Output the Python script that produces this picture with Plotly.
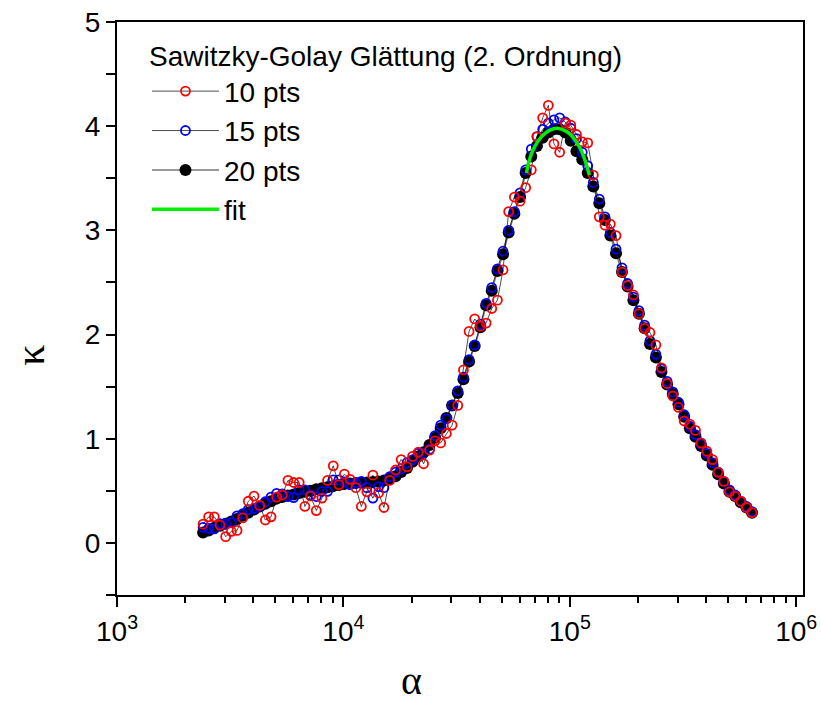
import plotly.graph_objects as go

alpha = [2400, 2540, 2690, 2850, 3020, 3200, 3390, 3590, 3800, 4030,
         4270, 4520, 4790, 5070, 5370, 5690, 6030, 6380, 6760, 7160,
         7590, 8040, 8510, 9020, 9550, 10100, 10700, 11350, 12000, 12700,
         13500, 14300, 15100, 16000, 17000, 18000, 19100, 20200, 21400, 22600,
         24000, 25400, 26900, 28500, 30200, 32000, 33900, 35900, 38000, 40300,
         42700, 45200, 47900, 50700, 53700, 56900, 60300, 63800, 67600, 71600,
         75900, 80400, 85100, 90200, 95500, 101000, 107000, 113500, 120000, 127000,
         135000, 143000, 151000, 160000, 170000, 180000, 191000, 202000, 214000, 226000,
         240000, 254000, 269000, 285000, 302000, 320000, 339000, 359000, 380000, 403000,
         427000, 452000, 479000, 507000, 537000, 569000, 603000, 638000]

kappa_20 = [0.10, 0.12, 0.145, 0.165, 0.185, 0.205, 0.23, 0.26, 0.29, 0.32,
            0.35, 0.375, 0.40, 0.425, 0.44, 0.455, 0.465, 0.48, 0.49, 0.50,
            0.515, 0.525, 0.535, 0.545, 0.555, 0.565, 0.57, 0.575, 0.58, 0.58,
            0.585, 0.59, 0.60, 0.615, 0.64, 0.68, 0.72, 0.78, 0.83, 0.87,
            0.94, 1.01, 1.10, 1.20, 1.32, 1.44, 1.57, 1.74, 1.89, 2.07,
            2.28, 2.42, 2.61, 2.77, 2.98, 3.16, 3.32, 3.55, 3.71, 3.81,
            3.89, 3.94, 3.97, 3.97, 3.94, 3.86, 3.76, 3.68, 3.55, 3.42,
            3.26, 3.10, 2.95, 2.78, 2.60, 2.46, 2.33, 2.20, 2.06, 1.91,
            1.78, 1.64, 1.52, 1.43, 1.33, 1.21, 1.10, 1.02, 0.93, 0.84,
            0.75, 0.66, 0.57, 0.49, 0.45, 0.39, 0.34, 0.29]

kappa_15 = [0.15, 0.14, 0.135, 0.185, 0.185, 0.195, 0.26, 0.28, 0.32, 0.33,
            0.35, 0.395, 0.44, 0.475, 0.47, 0.445, 0.435, 0.51, 0.51, 0.46,
            0.445, 0.495, 0.495, 0.605, 0.605, 0.585, 0.56, 0.575, 0.59, 0.53,
            0.43, 0.54, 0.53, 0.635, 0.68, 0.71, 0.77, 0.80, 0.86, 0.86,
            0.90, 1.03, 1.13, 1.19, 1.32, 1.46, 1.59, 1.76, 1.90, 2.10,
            2.30, 2.45, 2.63, 2.80, 3.00, 3.18, 3.36, 3.58, 3.78, 3.90,
            3.97, 4.03, 4.06, 4.08, 4.04, 3.98, 3.88, 3.75, 3.62, 3.46,
            3.30, 3.13, 2.98, 2.82, 2.64, 2.49, 2.36, 2.23, 2.09, 1.94,
            1.81, 1.67, 1.55, 1.45, 1.35, 1.23, 1.12, 1.04, 0.95, 0.86,
            0.77, 0.68, 0.59, 0.51, 0.46, 0.40, 0.35, 0.30]

kappa_10 = [0.18, 0.25, 0.25, 0.17, 0.06, 0.11, 0.12, 0.24, 0.40, 0.45,
            0.36, 0.22, 0.25, 0.44, 0.46, 0.60, 0.58, 0.58, 0.35, 0.45,
            0.31, 0.43, 0.60, 0.74, 0.56, 0.66, 0.61, 0.53, 0.35, 0.49,
            0.65, 0.48, 0.34, 0.60, 0.70, 0.80, 0.73, 0.83, 0.87, 0.76,
            0.89, 0.98, 0.96, 1.05, 1.13, 1.32, 1.66, 2.03, 2.15, 2.08,
            2.11, 2.25, 2.33, 2.62, 3.18, 3.32, 3.28, 3.41, 3.58, 3.90,
            4.08, 4.20, 3.83, 3.75, 4.03, 4.01, 3.92, 3.85, 3.84, 3.53,
            3.13, 3.05, 3.06, 2.95, 2.60, 2.47, 2.38, 2.20, 2.06, 2.02,
            1.90, 1.68, 1.53, 1.41, 1.30, 1.17, 1.14, 1.08, 0.96, 0.88,
            0.80, 0.68, 0.59, 0.49, 0.45, 0.40, 0.34, 0.29]

fit_alpha = [64360, 66340, 69800, 74950, 81280, 88150, 96600, 102700, 110300, 116000, 122000]
fit_kappa = [3.55, 3.68, 3.80, 3.90, 3.96, 3.98, 3.95, 3.90, 3.80, 3.69, 3.53]

x_tickvals = [1e3, 1e4, 1e5, 1e6]
x_ticktext = ["10<sup>3</sup>", "10<sup>4</sup>", "10<sup>5</sup>", "10<sup>6</sup>"]

fig = go.Figure()
fig.add_trace(go.Scatter(
    x=alpha, y=kappa_20, name="20 pts", mode="lines+markers", legendrank=3,
    line=dict(color="#777777", width=1.5),
    marker=dict(symbol="circle", size=12, color="black", line=dict(width=0))))
fig.add_trace(go.Scatter(
    x=alpha, y=kappa_15, name="15 pts", mode="lines+markers", legendrank=2,
    line=dict(color="black", width=0.7),
    marker=dict(symbol="circle-open", size=9, color="#0000ff", line=dict(width=1.8))))
fig.add_trace(go.Scatter(
    x=alpha, y=kappa_10, name="10 pts", mode="lines+markers", legendrank=1,
    line=dict(color="black", width=0.7),
    marker=dict(symbol="circle-open", size=9, color="#ff0000", line=dict(width=1.8))))
fig.add_trace(go.Scatter(
    x=fit_alpha, y=fit_kappa, name="fit", mode="lines", legendrank=4,
    line=dict(color="#00ee00", width=3.5, shape="spline")))

font_main = "Liberation Sans, Arial, sans-serif"
font_greek = "Liberation Serif, Times New Roman, serif"

fig.update_layout(
    width=821, height=704,
    margin=dict(l=117, r=18, t=22, b=109),
    paper_bgcolor="white", plot_bgcolor="white",
    font=dict(family=font_main, color="black", size=26),
    showlegend=True,
    legend=dict(
        x=0.0437, y=0.986, xanchor="left", yanchor="top",
        bgcolor="rgba(0,0,0,0)", borderwidth=0,
        font=dict(size=28, family=font_main),
        title=dict(text="Sawitzky-Golay Glättung (2. Ordnung)", font=dict(size=28, family=font_main)),
        itemwidth=67, tracegroupgap=0,
    ),
    xaxis=dict(
        type="log", range=[3, 6.03], automargin=False,
        showline=True, linecolor="black", linewidth=2, mirror=True,
        ticks="outside", ticklen=10, tickwidth=2, tickcolor="black",
        tickvals=x_tickvals, ticktext=x_ticktext,
        tickfont=dict(size=28, family=font_main),
        minor=dict(ticks="outside", ticklen=6, tickwidth=1.5, tickcolor="black", dtick="D1", showgrid=False),
        showgrid=False, zeroline=False,
    ),
    yaxis=dict(
        range=[-0.5, 5], automargin=False,
        showline=True, linecolor="black", linewidth=2, mirror=True,
        ticks="outside", ticklen=9, tickwidth=2, tickcolor="black",
        dtick=1, tick0=0,
        tickfont=dict(size=28, family=font_main),
        minor=dict(ticks="outside", ticklen=9, tickwidth=1.5, tickcolor="black", dtick=0.5, showgrid=False),
        showgrid=False, zeroline=False,
    ),
    annotations=[
        dict(text="κ", xref="paper", yref="paper", x=-0.127, y=0.419,
             xanchor="center", yanchor="middle", textangle=-90, showarrow=False,
             font=dict(size=42, family=font_greek)),
        dict(text="α", xref="paper", yref="paper", x=0.4286, y=-0.150,
             xanchor="center", yanchor="middle", showarrow=False,
             font=dict(size=40, family=font_greek)),
    ],
)

fig.write_html("out.html")
